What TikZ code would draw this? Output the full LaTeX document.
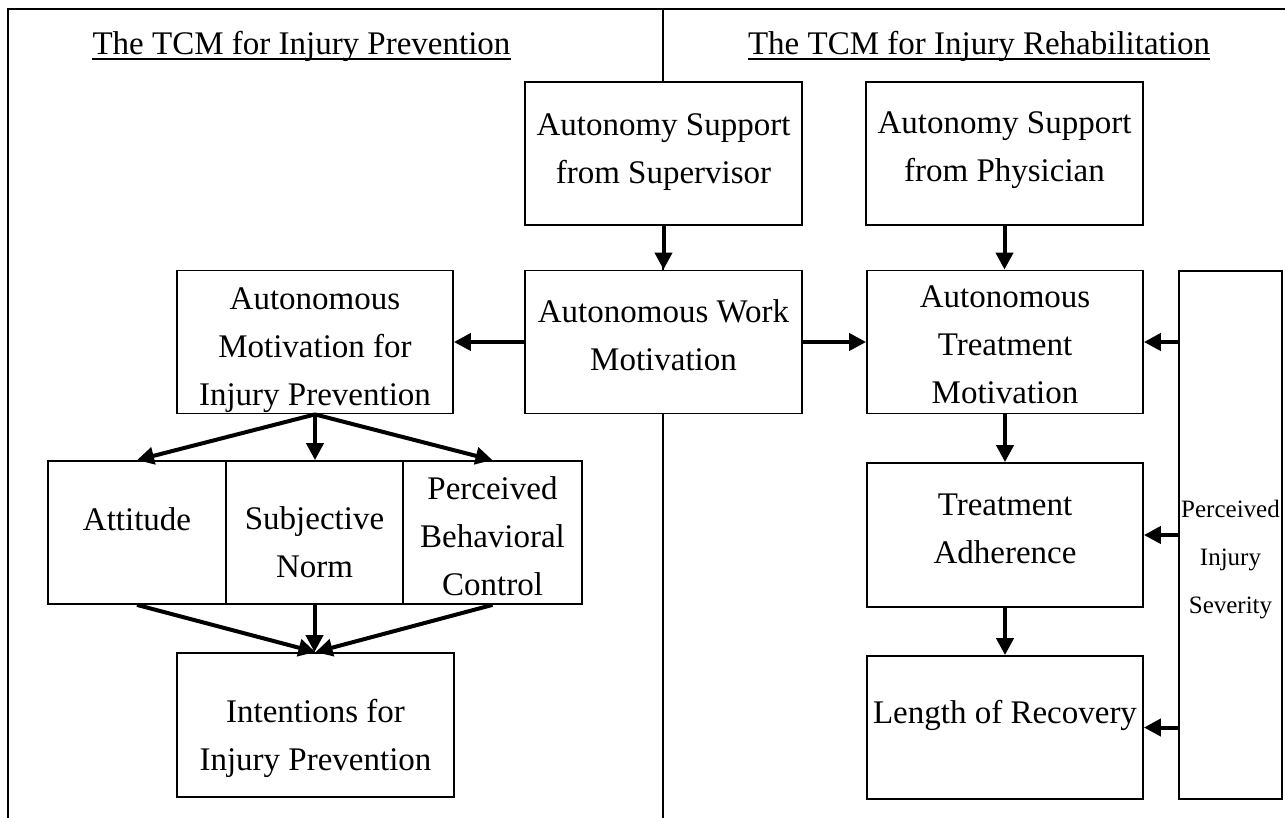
\documentclass[tikz,border=0pt]{standalone}
\usepackage{fontspec}
\setmainfont{Liberation Serif}
\usetikzlibrary{arrows.meta}
\begin{document}
\begin{tikzpicture}[x=1pt,y=-1pt,
  box/.style={draw,line width=1.8pt,fill=white,inner sep=0pt},
  lbl/.style={align=center,font=\fontsize{33}{48}\selectfont,inner sep=0pt},
  slbl/.style={align=center,font=\fontsize{25}{48}\selectfont,inner sep=0pt},
  ttl/.style={font=\fontsize{33}{40}\selectfont,inner sep=0pt,anchor=base},
  arr/.style={line width=4pt,-{Triangle[length=17pt,width=17pt]}},
  frame/.style={line width=2pt}]
\useasboundingbox (0,0) rectangle (1285,818);
% frame and divider
\draw[frame] (1285,9.5) -- (8,9.5) -- (8,818);
\draw[frame] (663,9.5) -- (663,818);
% titles
\node[ttl] (t1) at (301.5,55) {The TCM for Injury Prevention};
\node[ttl] (t2) at (979,55) {The TCM for Injury Rehabilitation};
\draw[line width=2pt] ([yshift=-4.5pt]t1.base west) -- ([yshift=-4.5pt]t1.base east);
\draw[line width=2pt] ([yshift=-4.5pt]t2.base west) -- ([yshift=-4.5pt]t2.base east);
% boxes
\node[box,minimum width=277pt,minimum height=143pt,
  label={[lbl,yshift=1.5pt]center:{Autonomy Support\\from Supervisor}}] (ass) at (663.5,153.5) {};
\node[box,minimum width=277pt,minimum height=143pt,
  label={[lbl,yshift=3pt]center:{Autonomy Support\\from Physician}}] (asp) at (1004.5,153.5) {};
\node[box,minimum width=276pt,minimum height=143pt,
  label={[lbl,yshift=-8pt]center:{Autonomous\\Motivation for\\Injury Prevention}}] (amip) at (315,342) {};
\node[box,minimum width=277pt,minimum height=143pt,
  label={[lbl,yshift=7pt]center:{Autonomous Work\\Motivation}}] (awm) at (663.5,342) {};
\node[box,minimum width=276pt,minimum height=143pt,
  label={[lbl,yshift=-3pt]center:{Autonomous\\Treatment\\Motivation}}] (atm) at (1005,342) {};
\node[box,minimum width=178pt,minimum height=143pt,
  label={[lbl,yshift=13.5pt]center:{Attitude}}] (att) at (137,532.5) {};
\node[box,minimum width=177pt,minimum height=143pt,
  label={[lbl,yshift=-9.5pt]center:{Subjective\\Norm}}] (sn) at (314.5,532.5) {};
\node[box,minimum width=179pt,minimum height=143pt,
  label={[lbl,yshift=-3.5pt]center:{Perceived\\Behavioral\\Control}}] (pbc) at (492.5,532.5) {};
\node[box,minimum width=277pt,minimum height=144pt,
  label={[lbl,yshift=-13pt]center:{Intentions for\\Injury Prevention}}] (int) at (315.5,725) {};
\node[box,minimum width=276pt,minimum height=144pt,
  label={[lbl,yshift=6pt]center:{Treatment\\Adherence}}] (ta) at (1005,535) {};
\node[box,minimum width=276pt,minimum height=143pt,
  label={[lbl,yshift=12.5pt]center:{Length of Recovery}}] (lor) at (1005,727.5) {};
\node[box,minimum width=103pt,minimum height=528pt,
  label={[slbl,yshift=-24.5pt]center:{Perceived\\Injury\\Severity}}] (pis) at (1230.5,535) {};
% arrows
\draw[arr] (ass.south) -- (ass.south |- awm.north);
\draw[arr] (asp.south) -- (asp.south |- atm.north);
\draw[arr] (awm.west) -- (awm.west -| amip.east);
\draw[arr] (awm.east) -- (awm.east -| atm.west);
\draw[arr] (amip.south) -- (att.north);
\draw[arr] (amip.south) -- (amip.south |- sn.north);
\draw[arr] (amip.south) -- (pbc.north);
\draw[arr] (att.south) -- (int.north);
\draw[arr] (sn.south) -- (sn.south |- int.north);
\draw[arr] (pbc.south) -- (int.north);
\draw[arr] (atm.south) -- (atm.south |- ta.north);
\draw[arr] (ta.south) -- (ta.south |- lor.north);
\draw[arr] (pis.west |- atm.east) -- (atm.east);
\draw[arr] (pis.west |- ta.east) -- (ta.east);
\draw[arr] (pis.west |- lor.east) -- (lor.east);
\end{tikzpicture}
\end{document}
